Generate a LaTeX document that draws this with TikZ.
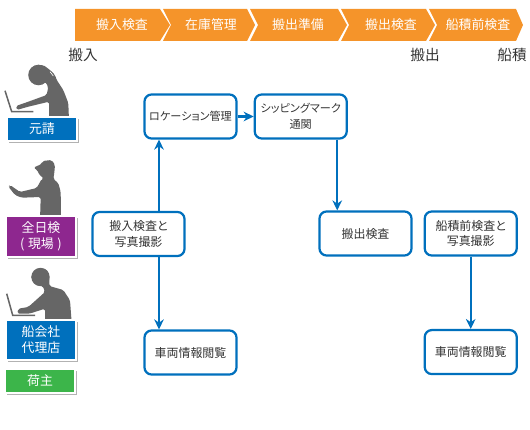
\documentclass[tikz,border=0pt]{standalone}
\usepackage{fontspec}
\setmainfont{Noto Sans CJK JP}[RawFeature={+palt}]
\usepackage{xcolor}
\usetikzlibrary{arrows.meta, positioning, shadows}
\definecolor{flowblue}{RGB}{0,112,189}
\definecolor{stageorange}{RGB}{245,148,42}
\definecolor{rolepurple}{RGB}{142,39,143}
\definecolor{rolegreen}{RGB}{60,181,74}
\definecolor{figgray}{RGB}{102,102,102}
\definecolor{textgray}{RGB}{51,51,51}
\begin{document}
\begin{tikzpicture}[
    x=0.03cm, y=-0.03cm,
    flowbox/.style={rectangle, rounded corners=6pt, draw=flowblue, fill=white, line width=1.9pt, minimum width=2.76cm, minimum height=1.32cm, align=center, inner sep=1pt, text=textgray, font=\fontsize{10.2}{13}\selectfont},
    tighttext/.style={font=\fontsize{9.5}{13.5}\selectfont},
    flow/.style={draw=flowblue, line width=1.9pt, -{Stealth[length=3mm,width=2.9mm]}},
    stage/.style={fill=stageorange},
    stagetext/.style={text=white, font=\fontsize{11}{13}\selectfont},
    milestone/.style={text=textgray, font=\fontsize{12.5}{14}\selectfont},
    rolebox/.style={rectangle, draw=white, line width=2pt, minimum width=2.11cm, align=center, text=white, inner sep=0pt, font=\fontsize{11}{13.5}\selectfont, drop shadow={shadow xshift=1.6pt, shadow yshift=-1.6pt, opacity=0.3, fill=black}},
    figure/.style={fill=figgray, rounded corners=1.5pt},
]
    \useasboundingbox (0,0) rectangle (530,430);

    % process stages
    \fill[stage] (75,9) -- (160,9) -- (170,25) -- (160,41) -- (75,41) -- cycle;
    \fill[stage] (163,9) -- (247,9) -- (255,25) -- (247,41) -- (163,41) -- (171,25) -- cycle;
    \fill[stage] (250,9) -- (338,9) -- (347,25) -- (338,41) -- (250,41) -- (258,25) -- cycle;
    \fill[stage] (341,9) -- (426,9) -- (435,25) -- (426,41) -- (341,41) -- (349,25) -- cycle;
    \fill[stage] (429,9) -- (516,9) -- (523,25) -- (516,41) -- (429,41) -- (437,25) -- cycle;
    \node[stagetext] (s1) at (122,25) {搬入検査};
    \node[stagetext] (s2) at (211,25) {在庫管理};
    \node[stagetext] (s3) at (298,25) {搬出準備};
    \node[stagetext] (s4) at (391,25) {搬出検査};
    \node[stagetext] (s5) at (478,25) {船積前検査};

    \node[milestone] (m1) at (83,55) {搬入};
    \node[milestone] (m2) at (425,55) {搬出};
    \node[milestone] (m3) at (512,55) {船積};

    % figures
    \fill[figgray] (38.5,75) circle (10.3);
    \fill[figure] (28.3,73.3) -- (33.3,66) -- (43.3,65) -- (50,70) -- (55,75) -- (56.7,80) -- (63.3,90) -- (68.3,103) -- (69,120) -- (49.3,120) -- (49,101.7) -- (28.3,106.7) -- (16.7,110) -- (16,106) -- (28.3,101.7) -- (46.7,95) -- (48.3,86.7) -- (45,81.7) -- (38.3,83.3) -- (31.7,80) -- cycle;
    \draw[white, line width=0.5pt] (50,71.7) -- (53.3,76);
    \draw[figgray, line width=1.3pt] (5,90.7) -- (11.7,111.7) -- (33.3,111.7);

    \fill[figure] (33.3,167.7) -- (41.7,164) -- (42.5,161) -- (51.7,160) -- (55,165) -- (54.3,173) -- (53.3,179) -- (58.3,183) -- (60.7,192) -- (61,220) -- (40,220) -- (40.7,197) -- (21.7,197.7) -- (15,195) -- (8.3,186.5) -- (10,185) -- (20,192) -- (36.7,188) -- (41.7,179) -- (44,178.3) -- (39.3,175) -- (37.3,170) -- cycle;

    \fill[figgray] (40.5,277) circle (9.2);
    \fill[figure] (30.7,276) -- (38.3,268.7) -- (46.7,269.3) -- (49.3,277) -- (49.3,286) -- (63.3,290) -- (70,300.3) -- (71.7,323) -- (45,323) -- (45,308.7) -- (29.3,313.7) -- (17.3,313.7) -- (18.3,308.7) -- (28.3,307) -- (45,292) -- (42.7,286) -- (35,284.7) -- cycle;
    \draw[figgray, line width=1.3pt] (6.7,293.7) -- (12.7,315.3) -- (35,315.3);

    % roles
    \node[rolebox, fill=flowblue, minimum height=0.73cm] (client) at (42,129) {元請};
    \node[rolebox, fill=rolepurple, minimum height=1.24cm] (surveyor) at (41,236.5) {全日検\\(\;現場\;)};
    \node[rolebox, fill=flowblue, minimum height=1.21cm] (agent) at (41,340) {船会社\\代理店};
    \node[rolebox, fill=rolegreen, minimum height=0.73cm] (shipper) at (40,381) {荷主};

    % flow boxes
    \node[flowbox, tighttext] (location) at (190.5,116.5) {ロケーション管理};
    \node[flowbox, tighttext, right=0.48cm of location] (marking) {シッピングマーク\\通関};
    \node[flowbox] (intake) at (138.5,234) {搬入検査と\\写真撮影};
    \node[flowbox] (viewa) at (190.5,352.5) {車両情報閲覧};
    \node[flowbox] (outbound) at (365.5,233.5) {搬出検査};
    \node[flowbox, right=0.33cm of outbound] (preship) {船積前検査と\\写真撮影};
    \node[flowbox, below=2.17cm of preship] (viewb) {車両情報閲覧};

    \draw[flow] ([xshift=-0.945cm]location.south |- intake.north) -- ([xshift=-0.945cm]location.south);
    \draw[flow] ([xshift=-0.945cm]viewa.north |- intake.south) -- ([xshift=-0.945cm]viewa.north);
    \draw[flow] (location) -- (marking);
    \draw[flow] ([xshift=1.095cm]marking.south) -- ([xshift=1.095cm]marking.south |- outbound.north);
    \draw[flow] (preship) -- (viewb);
\end{tikzpicture}
\end{document}
